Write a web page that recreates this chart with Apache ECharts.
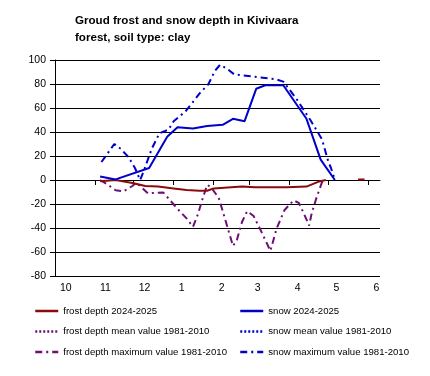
<!DOCTYPE html>
<html>
<head>
<meta charset="utf-8">
<script src="https://cdn.jsdelivr.net/npm/echarts@6/dist/echarts.min.js"></script>
<style>html,body{margin:0;padding:0;background:#fff;}#c{width:430px;height:376px;}</style>
</head>
<body>
<div id="c"></div>
<script>
// x values: days since 1 October 2024
var monthLabels = ['10', '11', '12', '1', '2', '3', '4', '5', '6'];
var monthStartDays = [0, 31, 61, 92, 123, 151, 182, 212, 243];
var yTicks = [100, 80, 60, 40, 20, 0, -20, -40, -60, -80];

var frostDepth = [[35, -1], [47, 0], [60, -2.5], [70, -5], [80, -5.5], [92, -7], [102, -8.3], [112, -9], [118, -9], [123, -7], [145, -5.5], [155, -6], [180, -6], [195, -5.5], [204, -1.5], [210, 0], [222, null], [235, 0.5], [240, 0.5]];
var snowDepth = [[35, 3], [47, 0.5], [73, 10], [87, 36], [95, 44], [107, 43], [118, 45], [130, 46], [138, 51], [147, 49], [156, 76], [163, 79], [177, 79], [195, 51], [206, 17], [217, 0]];
var frostMean = [];
var snowMean = [];
var frostMax = [[35, 0], [41, -4], [47, -8.5], [53, -9.5], [60, -5], [63, -2], [72, -11], [84, -10.5], [95, -24], [102, -32], [107, -39], [111, -28], [114, -17], [118, -4], [121, -6], [127, -15], [132, -33], [138, -55], [141, -50], [145, -35], [149, -26], [154, -30], [160, -43], [167, -59], [172, -40], [178, -25], [185, -17], [189, -19], [193, -28], [197, -38], [199, -28], [203, -14], [207, -2], [210, 0]];
var snowMax = [[36, 15], [46, 30], [51, 26], [57, 19], [62, 10], [66, 0], [69, 8], [75, 26], [81, 39], [88, 42], [92, 49], [101, 57], [107, 65], [112, 72], [119, 80], [124, 91], [128, 96], [133, 93], [139, 88], [155, 86], [171, 84], [177, 82], [187, 68], [198, 50], [207, 34], [212, 15], [214, 10], [217, 0]];

var names = ['frost depth 2024-2025', 'snow 2024-2025', 'frost depth mean value 1981-2010', 'snow mean value 1981-2010', 'frost depth maximum value 1981-2010', 'snow maximum value 1981-2010'];

var RED = '#8B0A0A', BLUE = '#0000CC', PURPLE = '#6E0F72';
var FONT = '"Liberation Sans", Arial, sans-serif';
var DASHDOT = [7, 4, 2, 4];

function line(name, data, color, type, z) {
  return {
    name: name, type: 'line', data: data, symbol: 'none', z: z,
    xAxisIndex: 0, connectNulls: false, animation: false,
    lineStyle: { color: color, width: 2, type: type },
    itemStyle: { color: color }
  };
}

function legendBlock(items, left) {
  return {
    data: items, orient: 'vertical', left: left, top: 306, padding: 0,
    itemWidth: 23, itemHeight: 12, itemGap: 10.5,
    itemStyle: { opacity: 0 },
    lineStyle: { width: 2.5 },
    textStyle: { fontFamily: FONT, fontSize: 9.6, color: '#000' }
  };
}

var chart = echarts.init(document.getElementById('c'), null, { renderer: 'canvas' });
chart.setOption({
  backgroundColor: '#ffffff',
  animation: false,
  title: {
    text: 'Groud frost and snow depth in Kivivaara\nforest, soil type: clay',
    left: 75, top: 12, padding: 0,
    textStyle: { fontFamily: FONT, fontSize: 11.6, fontWeight: 'bold', color: '#000', lineHeight: 17 }
  },
  legend: [
    legendBlock([names[0], names[2], names[4]], 34),
    legendBlock([names[1], names[3], names[5]], 239)
  ],
  grid: { left: 55, right: 50, top: 60, bottom: 100, containLabel: false },
  xAxis: [
    {
      type: 'value', min: 0, max: 252, position: 'bottom',
      axisLine: { show: false, onZero: false },
      axisTick: { show: false },
      splitLine: { show: false },
      axisLabel: {
        customValues: monthStartDays,
        formatter: function (v) { return monthLabels[monthStartDays.indexOf(v)]; },
        align: 'left', padding: [0, 0, 0, 5], margin: 7,
        fontFamily: FONT, fontSize: 10.5, color: '#000'
      }
    },
    {
      type: 'value', min: 0, max: 252, position: 'bottom',
      axisLine: { show: true, onZero: true, lineStyle: { color: '#000', width: 1 } },
      axisTick: { show: true, customValues: monthStartDays, length: 5, inside: false, lineStyle: { color: '#000' } },
      axisLabel: { show: false },
      splitLine: { show: false }
    }
  ],
  yAxis: {
    type: 'value', min: -80, max: 100, interval: 20,
    axisLine: { show: true, lineStyle: { color: '#000', width: 1 } },
    axisTick: { show: true, length: 5, inside: false, lineStyle: { color: '#000' } },
    splitLine: { show: true, lineStyle: { color: '#000', width: 1 } },
    axisLabel: { margin: 9, fontFamily: FONT, fontSize: 10.5, color: '#000',
      customValues: yTicks }
  },
  series: [
    line(names[4], frostMax, PURPLE, DASHDOT, 2),
    line(names[5], snowMax, BLUE, DASHDOT, 2),
    line(names[2], frostMean, PURPLE, [2, 2], 2),
    line(names[3], snowMean, BLUE, [2, 2], 2),
    line(names[0], frostDepth, RED, 'solid', 3),
    line(names[1], snowDepth, BLUE, 'solid', 3)
  ]
});
</script>
</body>
</html>
